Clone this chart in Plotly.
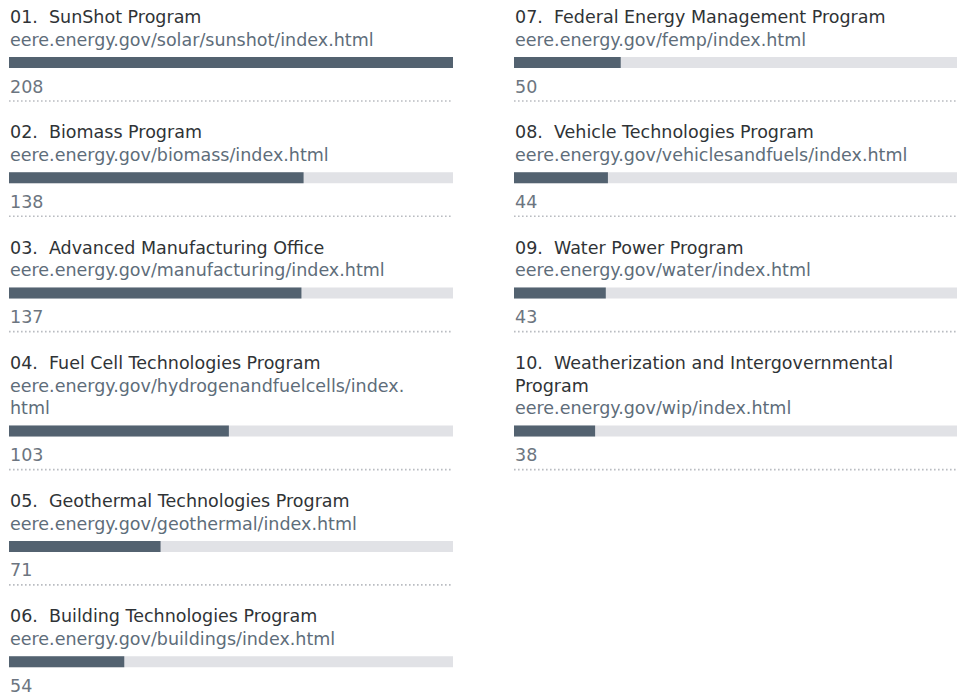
import plotly.graph_objects as go

numbers = ["01.", "02.", "03.", "04.", "05.", "06.", "07.", "08.", "09.", "10."]
titles = [
    ["SunShot Program"],
    ["Biomass Program"],
    ["Advanced Manufacturing Office"],
    ["Fuel Cell Technologies Program"],
    ["Geothermal Technologies Program"],
    ["Building Technologies Program"],
    ["Federal Energy Management Program"],
    ["Vehicle Technologies Program"],
    ["Water Power Program"],
    ["Weatherization and Intergovernmental", "Program"],
]
urls = [
    ["eere.energy.gov/solar/sunshot/index.html"],
    ["eere.energy.gov/biomass/index.html"],
    ["eere.energy.gov/manufacturing/index.html"],
    ["eere.energy.gov/hydrogenandfuelcells/index.", "html"],
    ["eere.energy.gov/geothermal/index.html"],
    ["eere.energy.gov/buildings/index.html"],
    ["eere.energy.gov/femp/index.html"],
    ["eere.energy.gov/vehiclesandfuels/index.html"],
    ["eere.energy.gov/water/index.html"],
    ["eere.energy.gov/wip/index.html"],
]
values = [208, 138, 137, 103, 71, 54, 50, 44, 43, 38]
columns = [0, 0, 0, 0, 0, 0, 1, 1, 1, 1]

# page body has an 8px margin; the figure is placed at (8, 8)
OFF = 8
W, H = 965 - OFF, 698 - OFF
FONT = "DejaVu Sans"
FS = 17.5
C_TITLE = "#2f3336"
C_URL = "#5e6d7a"
C_VAL = "#6c7580"
C_BAR = "#536270"
C_TRACK = "#e1e2e6"
C_DOT = "#b9bcc1"

LINE = 22.7
PITCH = 115.3
MAXV = max(values)

col_x = [9 - OFF, 514 - OFF]
col_w = 444

fig = go.Figure()
annotations = []
shapes = []


def add_text(txt, c, y, color):
    annotations.append(dict(text=txt, x=col_x[c] / W, xref="paper", xanchor="left",
                            y=y, yref="y", yanchor="middle", showarrow=False,
                            borderpad=0,
                            font=dict(family=FONT, size=FS, color=color)))


positions = [[], []]
cursor = [17.0 - OFF, 17.0 - OFF]
for i in range(len(values)):
    c = columns[i]
    T = cursor[c]
    y = T
    extra = len(titles[i]) + len(urls[i]) - 2
    for k, t in enumerate(titles[i]):
        txt = (numbers[i] + "\u00a0 " + t) if k == 0 else t
        add_text(txt, c, y, C_TITLE)
        y += LINE
    for u in urls[i]:
        add_text(u, c, y, C_URL)
        y += LINE
    bar_center = T + 45.5 + extra * LINE
    val_y = bar_center + 24.0
    dot_y = bar_center + 38.5
    positions[c].append((i, bar_center))
    add_text(str(values[i]), c, val_y, C_VAL)
    xr = "x" if c == 0 else "x2"
    shapes.append(dict(type="line", xref=xr, yref="y", x0=0, x1=MAXV, y0=dot_y, y1=dot_y,
                       line=dict(color=C_DOT, width=1.6, dash="1.6px,2.4px")))
    cursor[c] = T + PITCH + extra * LINE

for c in range(2):
    idx = [p[0] for p in positions[c]]
    ys = [p[1] for p in positions[c]]
    xa = "x" if c == 0 else "x2"
    fig.add_trace(go.Bar(x=[MAXV] * len(idx), y=ys, orientation="h", width=11,
                         marker=dict(color=C_TRACK, line=dict(width=0)),
                         xaxis=xa, yaxis="y", hoverinfo="skip", showlegend=False))
    fig.add_trace(go.Bar(x=[values[i] for i in idx], y=ys, orientation="h", width=11,
                         marker=dict(color=C_BAR, line=dict(width=0)),
                         text=[titles[i][0] for i in idx], hovertemplate="%{text}: %{x}<extra></extra>",
                         textposition="none",
                         xaxis=xa, yaxis="y", showlegend=False))

fig.update_layout(
    width=W, height=H,
    margin=dict(l=0, r=0, t=0, b=0),
    paper_bgcolor="white", plot_bgcolor="white",
    barmode="overlay",
    xaxis=dict(domain=[col_x[0] / W, (col_x[0] + col_w) / W], range=[0, MAXV],
               visible=False, fixedrange=True),
    xaxis2=dict(domain=[col_x[1] / W, (col_x[1] + col_w) / W], range=[0, MAXV],
                visible=False, fixedrange=True, anchor="y"),
    yaxis=dict(domain=[0, 1], range=[H, 0], visible=False, fixedrange=True),
    annotations=annotations,
    shapes=shapes,
    font=dict(family=FONT),
)

fig.write_html("out.html")
